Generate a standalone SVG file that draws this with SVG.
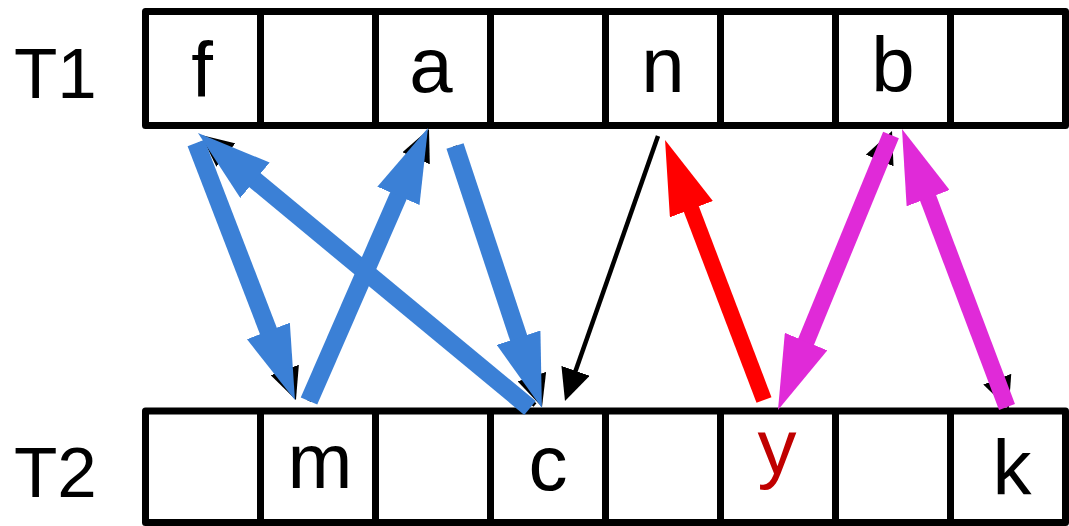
<svg xmlns="http://www.w3.org/2000/svg" width="1069" height="526" viewBox="0 0 1069 526">
<style>
.cell{fill:#fff;stroke:#000;stroke-width:7;stroke-linejoin:round}
.div{stroke:#000;stroke-width:7}
.lbl{font-family:"Liberation Sans",Arial,sans-serif;font-size:71px;fill:#000}
.t{font-family:"Liberation Sans",Arial,sans-serif;font-size:78px;fill:#000;text-anchor:middle}
.blk{stroke:#000;stroke-width:4.5;fill:none;marker-end:url(#hk)}
.blue{stroke:#3B80D6;stroke-width:18;fill:none;marker-end:url(#hb)}
.red{stroke:#FF0000;stroke-width:16;fill:none;marker-end:url(#hr)}
.mag{stroke:#E02AD8;stroke-width:17;fill:none;marker-end:url(#hm)}
</style>
<defs>
<marker id="hk" viewBox="0 0 32 30" markerWidth="32" markerHeight="30" markerUnits="userSpaceOnUse" refX="6" refY="15" orient="auto"><path d="M0,0 L32,15 L0,30 z" fill="#000"/></marker>
<marker id="hb" viewBox="0 0 74 46" markerWidth="74" markerHeight="46" markerUnits="userSpaceOnUse" refX="14" refY="23" orient="auto"><path d="M0,0 L74,23 L0,46 z" fill="#3B80D6"/></marker>
<marker id="hr" viewBox="0 0 74 46" markerWidth="74" markerHeight="46" markerUnits="userSpaceOnUse" refX="14" refY="23" orient="auto"><path d="M0,0 L74,23 L0,46 z" fill="#FF0000"/></marker>
<marker id="hm" viewBox="0 0 74 46" markerWidth="74" markerHeight="46" markerUnits="userSpaceOnUse" refX="14" refY="23" orient="auto"><path d="M0,0 L74,23 L0,46 z" fill="#E02AD8"/></marker>
</defs>
<rect width="1069" height="526" fill="#fff"/>
<g id="T1">
<text class="lbl" x="14" y="98">T1</text>
<rect class="cell" x="145.5" y="11.5" width="920" height="114"/>
<path class="div" d="M260.5,11.5V125.5M375.5,11.5V125.5M490.5,11.5V125.5M605.5,11.5V125.5M720.5,11.5V125.5M835.5,11.5V125.5M950.5,11.5V125.5"/>
<text class="t" x="202" y="97">f</text>
<text class="t" x="431" y="92">a</text>
<text class="t" x="663" y="92">n</text>
<text class="t" x="893" y="92">b</text>
</g>
<g id="T2">
<text class="lbl" x="14" y="497">T2</text>
<rect class="cell" x="145.5" y="411" width="920" height="111.5"/>
<path class="div" d="M260.5,411V522.5M375.5,411V522.5M490.5,411V522.5M605.5,411V522.5M720.5,411V522.5M835.5,411V522.5M950.5,411V522.5"/>
<text class="t" x="320" y="488">m</text>
<text class="t" x="548" y="490">c</text>
<text class="t" x="777" y="474" style="fill:#C00000">y</text>
<text class="t" x="1012" y="495">k</text>
</g>
<g id="connectors">
<path class="blk" d="M200,142L286.9,375.6"/>
<path class="blk" d="M535,405L221.2,151.3"/>
<path class="blk" d="M309,401L418.5,152.8"/>
<path class="blk" d="M455,146L533.8,382.3"/>
<path class="blk" d="M658,136L573.6,376.5"/>
<path class="blk" d="M790,375L882,155"/>
<path class="blk" d="M915,165L999.4,384.8"/>
<path class="blue" d="M196,143L273.4,344"/>
<path class="blue" d="M530,408L244.2,171.3"/>
<path class="blue" d="M309,401L404,183"/>
<path class="blue" d="M455,146L523,351"/>
<path class="red" d="M764,400L686.4,196.1"/>
<path class="mag" d="M891,135L800.8,354.5"/>
<path class="mag" d="M1007,407L923.2,185.1"/>
</g>
</svg>
